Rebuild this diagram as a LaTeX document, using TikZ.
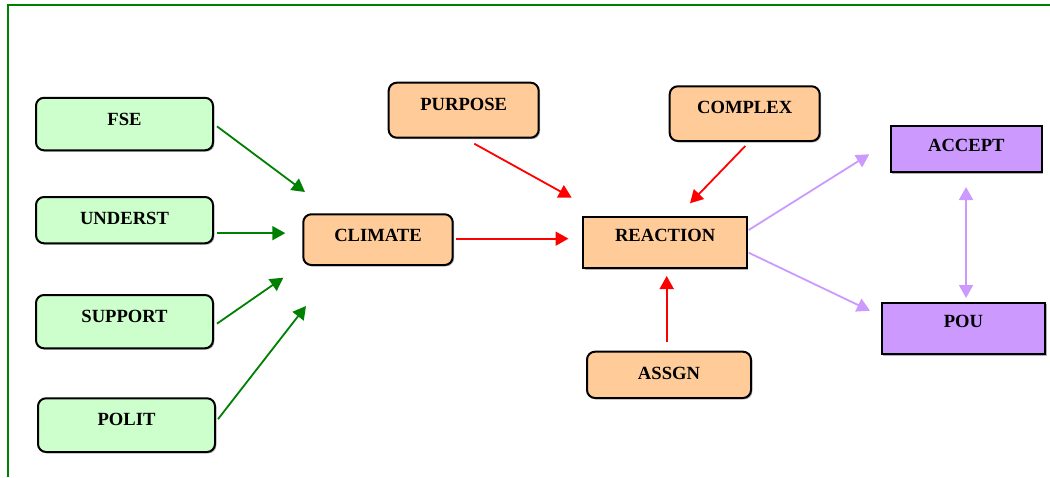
\documentclass[tikz,border=0pt]{standalone}
\usepackage{fontspec}
\setmainfont{Liberation Serif}
\usetikzlibrary{arrows.meta,calc,shadows}
\definecolor{framegreen}{RGB}{0,128,0}
\definecolor{gfill}{RGB}{204,255,204}
\definecolor{ofill}{RGB}{255,204,153}
\definecolor{pfill}{RGB}{204,153,255}
\definecolor{arrgreen}{RGB}{0,128,0}
\definecolor{arrred}{RGB}{255,0,0}
\definecolor{arrpurple}{RGB}{204,153,255}
\tikzset{
  % boxes: #1 = width, #2 = height, #3 = baseline distance from top (all in px)
  basebox/.style n args={3}{draw=black, line width=1pt, anchor=north west,
    inner xsep=0pt, inner ysep=0pt,
    minimum width=#1*0.5pt, text height=#3*0.5pt, text depth=(#2-#3)*0.5pt,
    font=\fontsize{9.3}{11}\selectfont\bfseries,
    general shadow={fill=black!30, shadow xshift=0.7pt, shadow yshift=-0.7pt}},
  greenbox/.style n args={3}{basebox={#1}{#2}{#3}, fill=gfill, rounded corners=4pt},
  orangebox/.style n args={3}{basebox={#1}{#2}{#3}, fill=ofill, rounded corners=4pt},
  squarebox/.style n args={3}{basebox={#1}{#2}{#3}, fill=ofill},
  purplebox/.style n args={3}{basebox={#1}{#2}{#3}, fill=pfill},
  conn/.style={line width=0.9pt, -{Triangle[length=6.5pt,width=7pt]}},
  garr/.style={conn, draw=arrgreen, fill=arrgreen},
  rarr/.style={conn, draw=arrred, fill=arrred},
  parr/.style={conn, draw=arrpurple, fill=arrpurple},
}
\begin{document}
\begin{tikzpicture}[x=0.5pt,y=-0.5pt]
\useasboundingbox (0,0) rectangle (1050,477);

% outer frame (top and left edges)
\draw[framegreen, line width=1pt] (7.7,477) -- (7.7,5) -- (1050,5);

% input factors
\node[greenbox={177}{52.5}{27.5}] (fse)     at (35,96.8)   {FSE};
\node[greenbox={177}{46.3}{27.3}] (underst) at (35,196)    {UNDERST};
\node[greenbox={177}{53.3}{27.5}] (support) at (35,294)    {SUPPORT};
\node[greenbox={177}{53.7}{27}]   (polit)   at (37,397.3)  {POLIT};

% middle layer
\node[orangebox={149.4}{50.7}{26.7}] (climate) at (302.3,213.3) {CLIMATE};
\node[orangebox={150}{55}{27.6}]     (purpose) at (387.7,81.7)  {PURPOSE};
\node[orangebox={150}{54.7}{27}]     (complex) at (668.7,85.3)  {COMPLEX};
\node[squarebox={163.7}{51.6}{24.3}] (reaction) at (582.3,215.7) {REACTION};
\node[orangebox={164}{46.3}{27.6}]   (assgn)   at (586,350.7)   {ASSGN};

% outcomes
\node[purplebox={150.7}{46}{25}]   (accept) at (890,125.3)   {ACCEPT};
\node[purplebox={163.6}{51.3}{24}] (pou)    at (880.7,302)   {POU};

% connector start points just off the boxes
\coordinate (understStart) at ($(underst.east)+(3,13)$);
\coordinate (climateStart) at ($(climate.east)+(2.3,-1)$);
\coordinate (assgnStart)   at ($(assgn.north)+(-2.3,-9)$);
\coordinate (acceptStart)  at ($(accept.south)+(-0.3,13.7)$);

% free arrow ends
\coordinate (fseEnd)     at (305,192);
\coordinate (understEnd) at ($(understStart)+(68.3,0)$);
\coordinate (supportEnd) at (283.3,277.7);
\coordinate (politEnd)   at (306,306);
\coordinate (climateEnd) at ($(climateStart)+(112.5,0)$);
\coordinate (purposeEnd) at (571.7,197.7);
\coordinate (complexEnd) at (690,203.3);
\coordinate (assgnEnd)   at ($(assgnStart)+(0,-65.7)$);
\coordinate (acceptEnd)  at (869.3,154.3);
\coordinate (pouEnd)     at (870,310.7);
\coordinate (pouTop)     at ($(acceptStart)+(0,111)$);

% green connectors into CLIMATE
\draw[garr] ($(fse.east)+(3,2.3)$)     -- (fseEnd);
\draw[garr] (understStart)             -- (understEnd);
\draw[garr] ($(support.east)+(3,2)$)   -- (supportEnd);
\draw[garr] ($(polit.east)+(2,-6)$)    -- (politEnd);

% red connectors into REACTION
\draw[rarr] (climateStart)               -- (climateEnd);
\draw[rarr] ($(purpose.south)+(10.6,5)$) -- (purposeEnd);
\draw[rarr] ($(complex.south)+(0.6,4)$)  -- (complexEnd);
\draw[rarr] (assgnStart)                 -- (assgnEnd);

% purple connectors to outcomes
\draw[parr] ($(reaction.east)+(0.7,-12.5)$) -- (acceptEnd);
\draw[parr] ($(reaction.east)+(0.7,10.2)$)  -- (pouEnd);
\draw[parr, {Triangle[length=6.5pt,width=7pt]}-{Triangle[length=6.5pt,width=7pt]}]
  (acceptStart) -- (pouTop);
\end{tikzpicture}
\end{document}
